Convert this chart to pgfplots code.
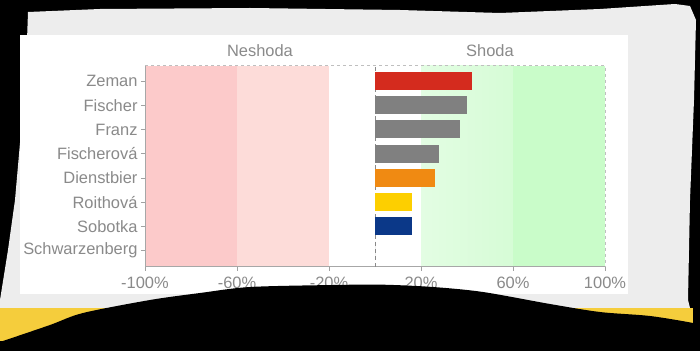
\documentclass[border=0pt]{standalone}
\usepackage{fontspec}
\setmainfont{Liberation Sans}
\usepackage{pgfplots}
\pgfplotsset{compat=1.18}
\definecolor{txt}{HTML}{8A8A8A}
\definecolor{paper}{HTML}{EDEDED}
\definecolor{ystrip}{HTML}{F5CD3C}
\definecolor{redA}{HTML}{FCCACA}
\definecolor{redB}{HTML}{FDDCD9}
\definecolor{greenA}{HTML}{E3FDE3}
\definecolor{greenB}{HTML}{D6FCD6}
\definecolor{greenC}{HTML}{C9FCC9}
\definecolor{cZeman}{HTML}{D42B1E}
\definecolor{cGray}{HTML}{808080}
\definecolor{cOrange}{HTML}{F08A12}
\definecolor{cYellow}{HTML}{FDCF00}
\definecolor{cBlue}{HTML}{0B3888}
\newcommand{\lblfont}{\fontsize{16.5}{18}\selectfont}
\begin{document}
\begin{tikzpicture}
\useasboundingbox (0,0) rectangle (700bp,351bp);
\fill[black] (0,0) rectangle (700bp,351bp);
\fill[paper] (28bp,339bp) -- (100bp,342bp) -- (250bp,343bp) -- (400bp,341bp) -- (500bp,338bp) -- (600bp,342bp) -- (675bp,347bp) -- (690bp,345bp) -- (696bp,331bp) -- (694bp,251bp) -- (690bp,151bp) -- (688bp,51bp) -- (690bp,43bp) -- (0bp,43bp) -- (0bp,51bp) -- (8bp,101bp) -- (15bp,151bp) -- (22bp,231bp) -- (27bp,311bp) -- cycle;
\fill[ystrip] (0,10bp) rectangle (693bp,43bp);
\fill[white] (20bp,57bp) rectangle (628bp,316bp);
\begin{axis}[
  at={(145bp,84.3bp)}, anchor=south west,
  scale only axis, width=460bp, height=201bp,
  xmin=-100, xmax=100, ymin=-0.66, ymax=7.63,
  axis line style={draw=none},
  xtick={-100,-60,-20,20,60,100},
  xticklabels={-100\%,-60\%,-20\%,20\%,60\%,100\%},
  ytick={0,1,2,3,4,5,6,7},
  yticklabels={Schwarzenberg,Sobotka,Roithová,Dienstbier,Fischerová,Franz,Fischer,Zeman},
  tick align=outside, major tick length=4bp,
  xtick pos=bottom, ytick pos=left,
  tick style={color=txt!80, line width=0.6bp},
  ticklabel style={font=\lblfont, text=txt},
  xticklabel style={yshift=-3bp},
  clip=false,
]
\fill[redA] (axis cs:-100,-0.66) rectangle (axis cs:-60,7.63);
\fill[redB] (axis cs:-60,-0.66) rectangle (axis cs:-20,7.63);
\path[left color=greenA, right color=greenB] (axis cs:20,-0.66) rectangle (axis cs:60,7.63);
\fill[greenC] (axis cs:60,-0.66) rectangle (axis cs:100,7.63);
\draw[color=txt!55, dash pattern=on 3bp off 3bp, line width=0.6bp] (rel axis cs:0,1) -- (rel axis cs:1,1) -- (rel axis cs:1,0);
\draw[color=txt!75, line width=0.6bp] (rel axis cs:0,1) -- (rel axis cs:0,0) -- (rel axis cs:1,0);
\draw[color=txt, dash pattern=on 4bp off 3bp, line width=0.6bp] (axis cs:0,-0.66) -- (axis cs:0,7.63);
\addplot[xbar, bar shift=0pt, bar width=18bp, fill=cZeman, draw=none] coordinates {(42,7)};
\addplot[xbar, bar shift=0pt, bar width=18bp, fill=cGray, draw=none] coordinates {(40,6)};
\addplot[xbar, bar shift=0pt, bar width=18bp, fill=cGray, draw=none] coordinates {(37,5)};
\addplot[xbar, bar shift=0pt, bar width=18bp, fill=cGray, draw=none] coordinates {(28,4)};
\addplot[xbar, bar shift=0pt, bar width=18bp, fill=cOrange, draw=none] coordinates {(26,3)};
\addplot[xbar, bar shift=0pt, bar width=18bp, fill=cYellow, draw=none] coordinates {(16,2)};
\addplot[xbar, bar shift=0pt, bar width=18bp, fill=cBlue, draw=none] coordinates {(16,1)};
\addplot[xbar, bar shift=0pt, bar width=18bp, fill=cGray, draw=none] coordinates {(0,0)};
\node[text=txt, font=\lblfont] at (axis cs:-50,7.63) [yshift=14.7bp] {Neshoda};
\node[text=txt, font=\lblfont] at (axis cs:50,7.63) [yshift=14.7bp] {Shoda};
\end{axis}
\fill[black] (0,0) -- (0,9bp) -- plot[smooth] coordinates {(0,9bp) (50bp,26bp) (83bp,38bp) (150bp,51bp) (200bp,58bp) (250bp,64bp) (333bp,66bp) (383bp,66.3bp) (433bp,64bp) (483bp,59bp) (550bp,47bp) (600bp,39bp) (650bp,35bp) (693bp,28bp) (700bp,25bp)} -- (700bp,0) -- cycle;
\end{tikzpicture}
\end{document}
